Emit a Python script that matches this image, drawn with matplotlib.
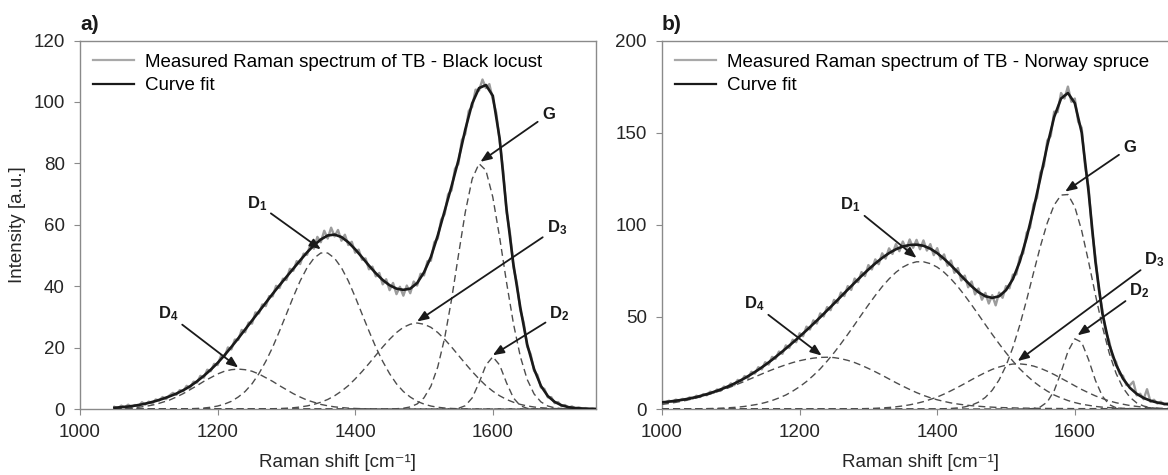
import numpy as np
import matplotlib
matplotlib.use('Agg')
import matplotlib.pyplot as plt
from matplotlib.lines import Line2D

plt.rcParams['font.family'] = ['Liberation Sans', 'DejaVu Sans']
plt.rcParams['mathtext.fontset'] = 'custom'
plt.rcParams['mathtext.rm'] = 'Liberation Sans'
plt.rcParams['mathtext.it'] = 'Liberation Sans:italic'
plt.rcParams['mathtext.bf'] = 'Liberation Sans:bold'

# ---- a) Black locust ----
shift_a = np.arange(1050, 1751, 10)
shift_a_meas = np.arange(1050, 1751, 5)

meas_a = [0.7, 0.2, 1.1, 0.5, 1.4, 0.65, 1.3, 0.8, 2.2, 1.45,
          2.4, 1.7, 3.1, 2.75, 3.9, 3.2, 4.4, 5.25, 4.6, 6.15,
          5.8, 7.55, 6.9, 8.9, 8.6, 10.8, 10.2, 12.8, 12.3, 14.7,
          14.3, 17.35, 16.9, 20.05, 19.4, 22.6, 22.5, 25.75, 25.0, 28.15,
          27.8, 31.45, 31.1, 34.05, 33.5, 36.75, 36.7, 40.1, 39.4, 42.45,
          42.0, 45.65, 45.0, 48.15, 47.2, 50.6, 50.2, 53.65, 52.2, 56.05,
          54.3, 58.05, 55.5, 59.05, 56.2, 58.3, 54.8, 56.75, 53.4, 54.45,
          50.9, 51.9, 48.6, 49.05, 45.5, 46.35, 43.2, 44.3, 40.6, 42.25,
          38.7, 41.05, 37.4, 39.8, 36.9, 40.2, 37.7, 41.5, 40.2, 44.05,
          43.5, 48.1, 48.3, 54.3, 55.5, 61.7, 63.4, 69.9, 71.2, 78.25,
          79.8, 87.6, 89.6, 97.05, 98.4, 104.0, 103.7, 107.3, 104.5, 105.8,
          100.8, 96.5, 87.0, 77.7, 64.1, 57.3, 46.2, 41.0, 32.1, 28.1,
          20.3, 17.9, 12.4, 11.05, 7.0, 6.55, 3.8, 3.85, 1.9, 2.25,
          0.9, 1.3, 0.4, 0.85, 0.2, 0.52, 0.15, 0.3, 0.05, 0.2,
          0.0]

fit_a = [0.4, 0.6, 0.8, 1.1, 1.5, 2.0, 2.6, 3.3, 4.1, 5.0,
         6.1, 7.4, 9.0, 10.8, 12.8, 15.0, 17.5, 20.2, 23.0, 25.9,
         28.8, 31.7, 34.6, 37.5, 40.3, 43.0, 45.7, 48.4, 51.0, 53.3,
         55.2, 56.5, 56.8, 56.0, 54.3, 52.0, 49.4, 46.7, 44.2, 42.0,
         40.3, 39.2, 38.8, 39.2, 41.0, 44.5, 49.5, 56.5, 64.5, 72.5,
         81.0, 91.0, 99.5, 104.5, 105.5, 102.0, 88.0, 65.0, 47.0, 33.0,
         21.0, 13.0, 7.5, 4.2, 2.3, 1.2, 0.6, 0.3, 0.15, 0.05,
         0.0]

d4_a = [0.1, 0.18, 0.29, 0.46, 0.7, 1.05, 1.5, 2.2, 2.9, 3.9,
        5.0, 6.3, 7.6, 9.0, 10.2, 11.4, 12.3, 12.8, 13.0, 12.8,
        12.3, 11.4, 10.2, 9.0, 7.6, 6.3, 5.0, 3.9, 2.9, 2.2,
        1.5, 1.05, 0.7, 0.46, 0.29, 0.18, 0.1, 0.05] + [0.0] * 33

d1_a = [0.0] * 10 + [0.05, 0.09, 0.18, 0.32, 0.57, 0.96, 1.6, 2.5, 3.9, 5.7,
                     8.2, 11.5, 15.5, 20.1, 25.4, 30.9, 36.5, 41.7, 46.0, 49.1,
                     50.8, 50.8, 49.1, 46.0, 41.7, 36.5, 30.9, 25.4, 20.1, 15.5,
                     11.5, 8.2, 5.7, 3.9, 2.5, 1.6, 0.96, 0.57, 0.32, 0.18,
                     0.09, 0.05] + [0.0] * 19

d3_a = [0.0] * 21 + [0.03, 0.05, 0.09, 0.15, 0.26, 0.41, 0.65, 1.0, 1.5, 2.2,
                     3.1, 4.3, 5.8, 7.6, 9.8, 12.2, 14.8, 17.5, 20.2, 22.7,
                     24.9, 26.6, 27.6, 28.0, 27.6, 26.6, 24.9, 22.7, 20.2, 17.5,
                     14.8, 12.2, 9.8, 7.6, 5.8, 4.3, 3.1, 2.2, 1.5, 1.0,
                     0.65, 0.41, 0.26, 0.15, 0.09, 0.05, 0.03] + [0.0] * 3

g_a = [0.0] * 40 + [0.03, 0.09, 0.25, 0.67, 1.64, 3.65, 7.4, 13.7, 23.1, 35.6,
                    50.0, 64.1, 74.9, 79.9, 77.7, 69.0, 55.8, 41.2, 27.8, 17.1,
                    9.6, 4.9, 2.3, 0.97, 0.38, 0.13, 0.05] + [0.0] * 4

d2_a = [0.0] * 49 + [0.03, 0.22, 1.07, 3.6, 8.5, 14.3, 17.0, 14.3, 8.5, 3.6,
                     1.07, 0.22, 0.03] + [0.0] * 9

# ---- b) Norway spruce ----
shift_b = np.arange(1000, 1751, 10)
shift_b_meas = np.arange(1000, 1751, 5)

meas_b = [4.0, 3.5, 4.5, 3.85, 5.1, 4.55, 5.5, 4.85, 6.3, 5.7,
          7.2, 6.5, 8.1, 7.45, 9.4, 8.75, 10.6, 9.8, 12.2, 11.5,
          13.9, 12.9, 15.8, 14.9, 17.9, 16.8, 20.2, 19.2, 22.7, 21.5,
          25.4, 24.1, 28.3, 27.2, 31.2, 29.95, 34.5, 33.2, 37.6, 36.25,
          41.1, 39.5, 44.7, 43.15, 48.1, 46.4, 51.9, 50.25, 55.3, 53.65,
          59.2, 57.6, 63.2, 61.3, 66.7, 64.65, 70.8, 68.85, 74.3, 72.15,
          78.1, 75.75, 81.2, 78.6, 84.5, 81.6, 87.2, 84.15, 89.5, 85.65,
          90.9, 86.6, 92.0, 87.5, 91.8, 86.7, 91.5, 86.0, 89.5, 83.5,
          87.3, 81.15, 83.9, 77.75, 80.6, 73.9, 76.5, 69.75, 72.4, 66.05,
          69.2, 62.2, 65.4, 59.3, 63.0, 57.25, 61.8, 56.25, 63.2, 60.35,
          66.7, 65.5, 72.9, 73.05, 82.5, 84.5, 95.6, 98.45, 111.0, 114.6,
          128.3, 131.75, 145.7, 148.15, 161.4, 161.1, 171.5, 168.5, 175.0, 166.75,
          168.5, 155.8, 152.6, 131.6, 120.5, 97.0, 82.2, 64.2, 54.0, 41.9,
          36.8, 28.1, 25.6, 18.95, 18.0, 13.0, 12.9, 14.85, 7.4, 8.3,
          5.3, 10.75, 3.9, 5.0, 3.0, 3.95, 2.4, 3.15, 2.0, 2.65,
          1.8]

fit_b = [3.6, 4.0, 4.5, 5.0, 5.7, 6.5, 7.5, 8.6, 9.9, 11.3,
         12.9, 14.7, 16.7, 18.9, 21.3, 23.9, 26.7, 29.7, 32.8, 36.0,
         39.3, 42.7, 46.2, 49.8, 53.5, 57.2, 61.0, 64.8, 68.5, 72.2,
         75.7, 79.0, 82.0, 84.6, 86.7, 88.2, 89.0, 89.2, 88.6, 87.0,
         84.6, 81.5, 78.0, 74.2, 70.3, 66.6, 63.4, 61.2, 60.3, 61.2,
         64.5, 70.5, 80.0, 93.0, 108.5, 125.5, 143.0, 158.5, 168.5, 171.5,
         166.0, 150.0, 118.0, 80.0, 52.0, 35.0, 24.0, 16.5, 11.5, 8.2,
         6.0, 4.5, 3.5, 2.8, 2.3, 2.0]

d4_b = [2.5, 3.0, 3.6, 4.3, 5.1, 6.0, 7.0, 8.1, 9.3, 10.6,
        12.0, 13.5, 15.0, 16.6, 18.2, 19.8, 21.3, 22.7, 24.0, 25.2,
        26.2, 27.0, 27.6, 28.0, 28.1, 27.9, 27.3, 26.4, 25.2, 23.7,
        22.0, 20.2, 18.3, 16.3, 14.3, 12.4, 10.6, 8.9, 7.4, 6.1,
        5.0, 4.1, 3.3, 2.7, 2.2, 1.8, 1.5, 1.2, 1.0, 0.8,
        0.7, 0.6, 0.5, 0.45, 0.4, 0.35, 0.3, 0.3, 0.25, 0.25] + [0.2] * 16

d1_b = [0.01, 0.02, 0.03, 0.05, 0.08, 0.12, 0.18, 0.26, 0.37, 0.53,
        0.75, 1.0, 1.4, 2.0, 2.6, 3.5, 4.6, 6.0, 7.6, 9.7,
        12.1, 14.9, 18.2, 21.8, 26.0, 30.5, 35.4, 40.5, 45.8, 51.2,
        56.5, 61.6, 66.4, 70.6, 74.2, 77.0, 78.9, 79.9, 79.9, 78.9,
        77.0, 74.2, 70.6, 66.4, 61.6, 56.5, 51.2, 45.8, 40.5, 35.4,
        30.5, 26.0, 21.8, 18.2, 14.9, 12.1, 9.7, 7.6, 6.0, 4.6,
        3.5, 2.6, 2.0, 1.4, 1.0, 0.75, 0.53, 0.37, 0.26, 0.18,
        0.12, 0.08, 0.05, 0.03, 0.02, 0.01]

d3_b = [0.0] * 25 + [0.03, 0.04, 0.07, 0.11, 0.17, 0.26, 0.39, 0.58, 0.84, 1.19,
                     1.66, 2.27, 3.05, 4.0, 5.2, 6.5, 8.1, 9.9, 11.8, 13.8,
                     15.9, 17.9, 19.8, 21.5, 22.8, 23.8, 24.4, 24.5, 24.1, 23.3,
                     22.1, 20.5, 18.7, 16.7, 14.7, 12.6, 10.6, 8.8, 7.1, 5.7,
                     4.4, 3.4, 2.6, 1.9, 1.4, 0.97, 0.67, 0.46, 0.31, 0.20, 0.13]

g_b = [0.0] * 39 + [0.03, 0.07, 0.15, 0.3, 0.6, 1.15, 2.1, 3.7, 6.3, 10.2,
                    15.8, 23.5, 33.4, 45.5, 59.2, 73.9, 88.3, 101.0, 110.7, 116.1,
                    116.4, 109.7, 96.8, 80.0, 61.9, 44.9, 30.4, 19.3, 11.5, 6.4,
                    3.3, 1.6, 0.75, 0.32, 0.13, 0.05, 0.02]

d2_b = [0.0] * 53 + [0.05, 0.27, 1.15, 3.8, 9.9, 19.9, 31.2, 38.1, 36.2, 26.8,
                     15.5, 7.0, 2.4, 0.66, 0.14, 0.02] + [0.0] * 7

TXT = '#262626'
EDGE = '#8a8a8a'
FS = 13.5


def draw_panel(ax, x_meas, meas, x, fit, bands, ymax, ystep, wood):
    ax.plot(x_meas, meas, color='#9c9c9c', lw=1.7, zorder=2)
    for band in bands:
        ax.plot(x, band, color='#4d4d4d', lw=1.0, ls=(0, (5, 3)), zorder=3)
    ax.plot(x, fit, color='#1a1a1a', lw=1.9, zorder=4)
    ax.set_xlim(1000, 1750)
    ax.set_ylim(0, ymax)
    ax.set_xticks([1000, 1200, 1400, 1600])
    ax.set_yticks(np.arange(0, ymax + 1, ystep))
    for s in ax.spines.values():
        s.set_color(EDGE)
        s.set_linewidth(1.0)
    ax.tick_params(axis='x', direction='out', length=4, color=EDGE, labelsize=FS, pad=7, labelcolor=TXT)
    ax.tick_params(axis='y', direction='out', length=4, color=EDGE, labelsize=FS, pad=7, labelcolor=TXT)
    ax.set_xlabel('Raman shift [cm\u207b\u00b9]', fontsize=FS, color=TXT, labelpad=9)
    handles = [Line2D([], [], color='#a8a8a8', lw=1.6), Line2D([], [], color='#1a1a1a', lw=1.6)]
    ax.legend(handles, ['Measured Raman spectrum of TB - ' + wood, 'Curve fit'],
              loc='upper left', bbox_to_anchor=(0.025, 0.965), frameon=False, fontsize=FS,
              handlelength=2.2, handletextpad=0.6, labelspacing=0.35, borderpad=0, borderaxespad=0)


def label_band(ax, text, text_xy, tip_xy):
    ax.annotate(text, xy=tip_xy, xytext=text_xy, ha='center', va='center', fontsize=12,
                color='#1a1a1a', zorder=6, annotation_clip=False,
                arrowprops=dict(arrowstyle='-|>,head_length=0.55,head_width=0.22',
                                color='#1a1a1a', lw=1.3, shrinkA=1, shrinkB=0))


fig = plt.figure(figsize=(11.68, 4.75), dpi=100)
ax_a = fig.add_axes([80 / 1168, 66 / 475, 516 / 1168, 368.5 / 475])
ax_b = fig.add_axes([662 / 1168, 66 / 475, 516 / 1168, 368.5 / 475])

draw_panel(ax_a, shift_a_meas, meas_a, shift_a, fit_a, [d4_a, d1_a, d3_a, g_a, d2_a], 120, 20, 'Black locust')
ax_a.set_ylabel('Intensity [a.u.]', fontsize=FS, color=TXT, labelpad=5)
label_band(ax_a, r'$\mathbf{D_4}$', (1128, 31), (1230, 13.5))
label_band(ax_a, r'$\mathbf{D_1}$', (1257, 67), (1350, 52))
label_band(ax_a, r'$\mathbf{D_3}$', (1693, 59), (1490, 28.5))
label_band(ax_a, r'$\mathbf{D_2}$', (1697, 31), (1600, 17.5))
label_band(ax_a, r'$\mathbf{G}$', (1681, 96), (1582, 80.5))

draw_panel(ax_b, shift_b_meas, meas_b, shift_b, fit_b, [d4_b, d1_b, d3_b, g_b, d2_b], 200, 50, 'Norway spruce')
label_band(ax_b, r'$\mathbf{D_4}$', (1134, 57), (1232, 29))
label_band(ax_b, r'$\mathbf{D_1}$', (1274, 111), (1370, 82))
label_band(ax_b, r'$\mathbf{D_3}$', (1716, 81), (1517, 26))
label_band(ax_b, r'$\mathbf{D_2}$', (1694, 64), (1604, 40))
label_band(ax_b, r'$\mathbf{G}$', (1680, 142), (1586, 118))

fig.text(80 / 1168, 1 - 25 / 475, 'a)', fontsize=15, fontweight='bold', color='#1a1a1a', ha='left', va='center')
fig.text(662 / 1168, 1 - 25 / 475, 'b)', fontsize=15, fontweight='bold', color='#1a1a1a', ha='left', va='center')

fig.savefig('out.png', dpi=100)
